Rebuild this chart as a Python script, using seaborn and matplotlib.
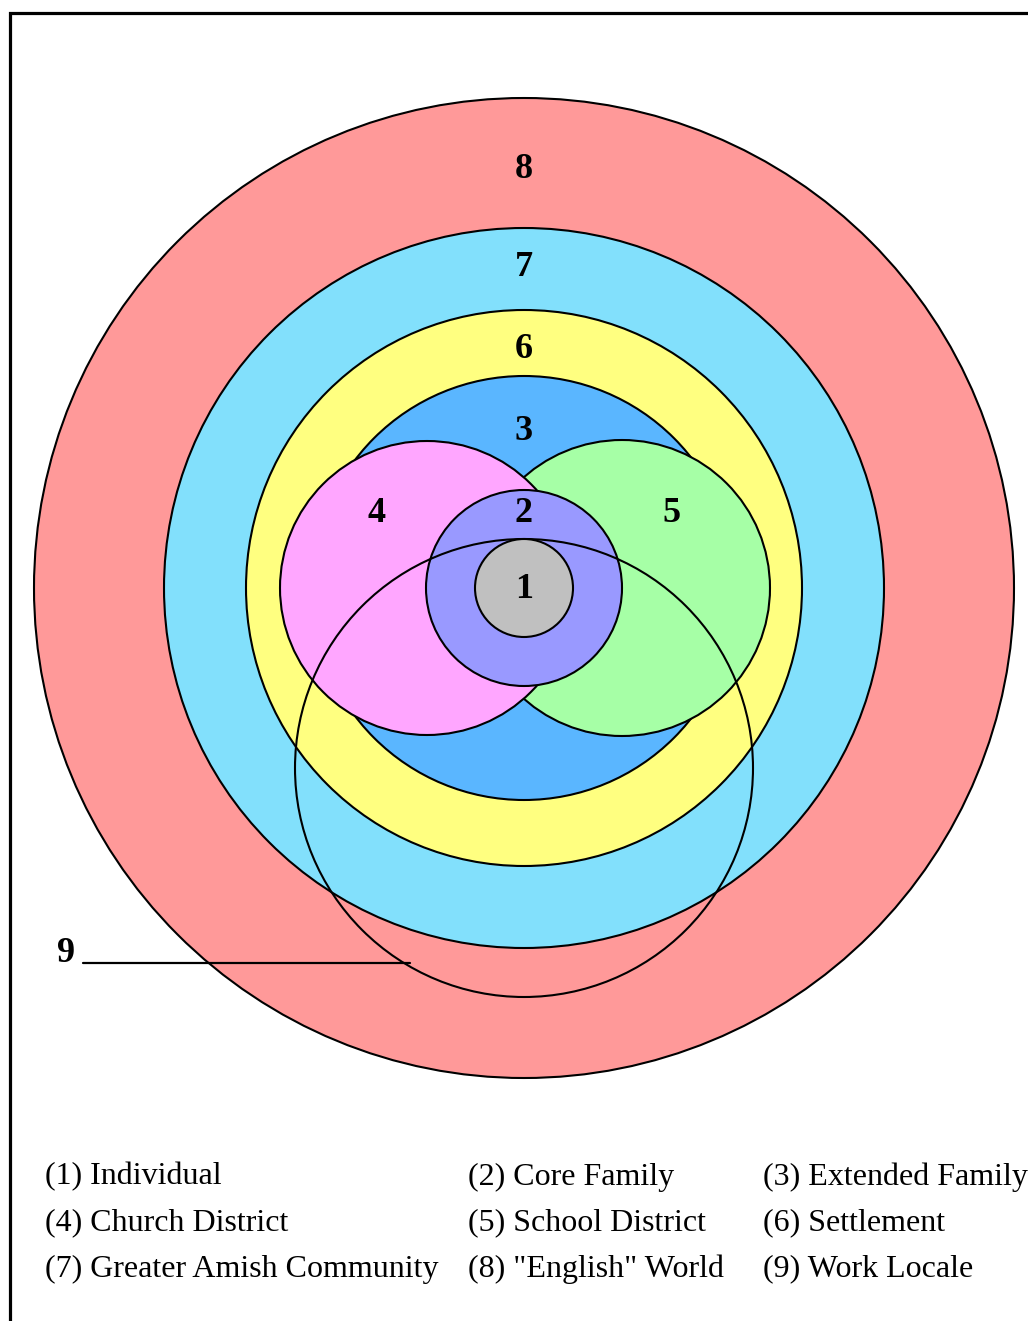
import numpy as np
import matplotlib
matplotlib.use("Agg")
import matplotlib.pyplot as plt
from matplotlib.patches import Circle
import seaborn as sns

# Rings of the Amish social world (pixel units, y grows downward)
ring_ids = ["8", "7", "6", "3", "5", "4", "2", "9", "1"]
ring_cx = [524, 524, 524, 524, 622, 427, 524, 524, 524]
ring_cy = [588, 588, 588, 588, 588, 588, 588, 768, 588]
ring_r = [490, 360, 278, 212, 148, 147, 98, 229, 49]
ring_colors = ["#FF9999", "#82E0FC", "#FFFF80", "#5AB6FF", "#A6FFA6",
               "#FFA6FF", "#9999FF", "none", "#C0C0C0"]

# Number labels inside the rings
label_text = ["8", "7", "6", "3", "4", "2", "5", "1"]
label_x = [524, 524, 524, 524, 377, 524, 671, 524]
label_y = [167, 264, 347, 428, 510, 510, 510, 587]

# Legend entries
legend_text = ["(1) Individual", "(2) Core Family", "(3) Extended Family",
               "(4) Church District", "(5) School District", "(6) Settlement",
               "(7) Greater Amish Community", "(8) \"English\" World", "(9) Work Locale"]
legend_cols = [45, 468, 763]
legend_rows = [1174, 1220, 1266]

sns.set_theme(style="white")
plt.rcParams["font.family"] = ["Liberation Serif", "DejaVu Serif"]
plt.rcParams["text.color"] = "black"

fig = plt.figure(figsize=(10.28, 13.21), dpi=100)
ax = fig.add_axes([0, 0, 1, 1])
ax.set_xlim(0, 1028)
ax.set_ylim(1321, 0)
ax.set_aspect("equal")
ax.axis("off")

# frame on left and top
ax.plot([10, 10, 1028], [1321, 13, 13], color="black", lw=2.3, solid_joinstyle="miter")

for i, (cx, cy, r, c) in enumerate(zip(ring_cx, ring_cy, ring_r, ring_colors)):
    fill = c != "none"
    ax.add_patch(Circle((cx, cy), r, facecolor=c if fill else "none",
                        edgecolor="black", lw=1.5, fill=fill, zorder=i + 1))

# va="center" sits a bit high for digits, nudge down
for t, x, y in zip(label_text, label_x, label_y):
    ax.text(x, y + 3, t, ha="center", va="center", fontsize=26, fontweight="bold",
            color="black", zorder=20)

# pointer for ring 9
ax.plot([83, 410], [963, 963], color="black", lw=1.6, zorder=20)
ax.text(66, 953, "9", ha="center", va="center", fontsize=26, fontweight="bold",
        color="black", zorder=20)

for k, t in enumerate(legend_text):
    ax.text(legend_cols[k % 3], legend_rows[k // 3] + 3, t, ha="left", va="center",
            fontsize=23, color="black", zorder=20)

fig.savefig("out.png", dpi=100)
